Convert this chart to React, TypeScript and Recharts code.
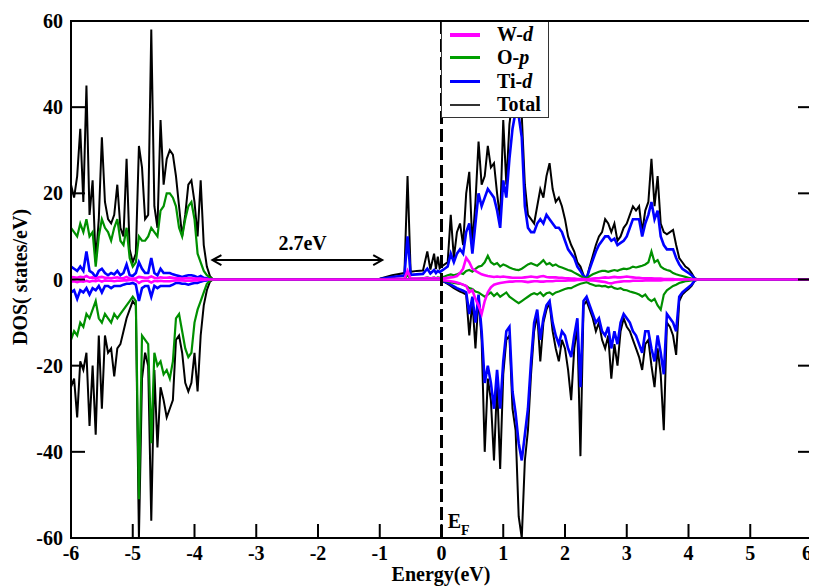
import React from "react";
import {
  LineChart,
  Line,
  XAxis,
  YAxis,
  ReferenceLine,
  ReferenceDot,
  Legend,
} from "recharts";

// Energy grid (eV): valence band, in-gap states, conduction band, tail
const energy = [
  -6.0, -5.95, -5.9, -5.85, -5.8, -5.75, -5.7, -5.65, -5.6, -5.55,
  -5.5, -5.45, -5.4, -5.35, -5.3, -5.25, -5.2, -5.15, -5.1, -5.05,
  -5.0, -4.95, -4.9, -4.85, -4.8, -4.75, -4.7, -4.65, -4.6, -4.55,
  -4.5, -4.45, -4.4, -4.35, -4.3, -4.25, -4.2, -4.15, -4.1, -4.05,
  -4.0, -3.95, -3.9, -3.85, -3.8, -3.75, -3.7,
  -3.5, -1.0, -0.8, -0.6, -0.55, -0.5, -0.4, -0.3, -0.23, -0.18, -0.12, -0.09, -0.06, -0.03,
  0.0, 0.05, 0.1, 0.15, 0.2, 0.25, 0.3, 0.35, 0.4, 0.45,
  0.5, 0.55, 0.6, 0.65, 0.7, 0.75, 0.8, 0.85, 0.9, 0.95,
  1.0, 1.05, 1.1, 1.15, 1.2, 1.25, 1.3, 1.35, 1.4, 1.45,
  1.5, 1.55, 1.6, 1.65, 1.7, 1.75, 1.8, 1.85, 1.9, 1.95,
  2.0, 2.05, 2.1, 2.15, 2.2, 2.25, 2.3, 2.35, 2.4, 2.45,
  2.5, 2.55, 2.6, 2.65, 2.7, 2.75, 2.8, 2.85, 2.9, 2.95,
  3.0, 3.05, 3.1, 3.15, 3.2, 3.25, 3.3, 3.35, 3.4, 3.45,
  3.5, 3.55, 3.6, 3.65, 3.7, 3.75, 3.8, 3.85, 3.9, 3.95,
  4.0, 4.05, 4.1, 4.15, 4.2,
  4.3, 6.0,
];

// spin up
const totalUp = [
  22, 19, 24, 35, 18, 45, 15, 23, 4, 14,
  33, 18, 14, 13, 15, 22, 12, 10, 28, 7,
  4, 6, 31, 26, 14, 15, 58, 17, 12, 37,
  22, 28, 30, 29, 24, 17, 10, 15, 22, 23,
  18, 10, 23, 8, 3, 0.8, 0,
  0, 0.2, 1.0, 1.5, 24, 1.8, 2, 2.1, 6.5, 2.3, 6, 2.4, 5.3, 2.6,
  3, 3.5, 4, 15, 5, 11, 13, 8, 20, 25,
  8, 18, 32, 22, 24, 31, 26, 27, 20, 14,
  37, 22, 36, 42, 45, 44, 38, 22, 15, 14,
  13, 17, 21, 19, 24, 27, 21, 18, 19, 17,
  14, 10, 8, 6.5, 4, 3, 1, 0.3, 3, 5.5,
  8, 10, 11, 14, 13, 11, 13, 9, 10, 12,
  13, 15, 17, 16, 17, 11, 16, 18, 28, 17,
  24, 13, 11, 10.5, 11, 11.5, 8, 5, 4, 3,
  2.5, 1.5, 0.3, 0, 0,
  0, 0,
];

const tiUp = [
  3, 2.5, 2, 3, 2, 6.5, 2, 1.5, 0.5, 2,
  2.5, 1.5, 1, 1.5, 1.2, 2, 1, 1.5, 3.5, 1,
  0.8, 1.5, 4, 2.5, 1.5, 1.5, 5, 1.5, 1, 2.5,
  1.5, 1.5, 1.5, 1.2, 1, 0.8, 0.6, 0.8, 1, 1,
  0.8, 0.5, 0.8, 0.4, 0.3, 0.1, 0,
  0, 0.1, 0.6, 0.9, 10, 1.1, 1.2, 1.3, 2.5, 1.4, 2.2, 1.5, 2, 1.7,
  2, 2.5, 3, 6, 4, 6, 7, 6, 11, 13,
  6, 13, 20, 17, 19, 21, 20, 19, 16, 12,
  23, 19, 28, 35, 39, 38, 33, 17, 12, 11,
  11, 13, 14, 13, 15, 14, 13, 12, 12, 11,
  9, 7, 6, 5, 3, 2, 0.8, 0.2, 2.5, 4.5,
  6.5, 8, 9, 10, 10, 9, 9.5, 8, 8.5, 9,
  10, 12, 14, 14, 14, 10, 13, 15, 18, 14,
  16, 10, 8, 7, 7, 7, 5, 3.5, 2.5, 2,
  1.5, 1, 0.2, 0, 0,
  0, 0,
];

const opUp = [
  12, 11, 10, 13, 11, 14, 10, 11, 3, 10,
  14, 12, 11, 9, 12, 14, 9, 8, 12, 5,
  3, 4, 10, 9, 9, 10, 12, 11, 10, 16,
  17, 20, 20, 19, 17, 12, 10, 14, 17, 18,
  14, 6, 4, 2, 1, 0.5, 0,
  0, 0.05, 0.1, 0.2, 1, 0.2, 0.2, 0.3, 0.5, 0.3, 0.5, 0.3, 0.5, 0.4,
  0.5, 0.7, 1, 1.2, 1, 1.2, 1.5, 1.3, 2, 2.2,
  1.8, 2.5, 3, 3.2, 4, 5.5, 4, 3.5, 3.8, 3,
  3.5, 3.2, 2.8, 2.5, 2.3, 2.2, 2.5, 3, 3.5, 3.8,
  3.5, 3.2, 3.8, 4.5, 3.5, 3.8, 3.2, 3.5, 3, 2.8,
  2.5, 2.2, 2, 1.6, 1.2, 0.8, 0.4, 0.2, 0.8, 1.2,
  1.5, 1.8, 2, 2, 1.8, 2, 2.2, 2, 2.3, 2.5,
  2.4, 2.6, 3, 2.8, 3, 3.2, 3.5, 4, 6.5, 4,
  4.5, 3, 2.5, 2.2, 2, 1.5, 1.2, 1, 0.8, 0.6,
  0.4, 0.2, 0, 0, 0,
  0, 0,
];

const wUp = [
  0.6, 0.5, 0.4, 0.6, 0.5, 0.8, 0.4, 0.5, 0.2, 0.5,
  0.6, 0.4, 0.4, 0.3, 0.4, 0.5, 0.3, 0.3, 0.6, 0.2,
  0.2, 0.3, 0.6, 0.5, 0.4, 0.4, 0.7, 0.4, 0.3, 0.5,
  0.4, 0.4, 0.5, 0.4, 0.3, 0.3, 0.2, 0.3, 0.3, 0.3,
  0.2, 0.2, 0.2, 0.1, 0.1, 0, 0,
  0, 0, 0.1, 0.2, 2, 0.2, 0.2, 0.2, 0.4, 0.2, 0.4, 0.2, 0.3, 0.2,
  0.2, 0.3, 0.4, 0.5, 0.6, 0.8, 1.5, 2.5, 5, 4,
  2.5, 2, 1.6, 1.2, 1, 0.8, 0.7, 0.6, 0.7, 0.6,
  0.7, 0.6, 0.5, 0.4, 0.4, 0.4, 0.4, 0.5, 0.6, 0.7,
  0.6, 0.5, 0.7, 0.8, 0.6, 0.5, 0.5, 0.5, 0.4, 0.4,
  0.3, 0.3, 0.2, 0.2, 0.1, 0.1, 0.1, 0, 0.1, 0.2,
  0.3, 0.3, 0.4, 0.5, 0.4, 0.5, 0.6, 0.5, 0.5, 0.6,
  0.7, 0.6, 0.5, 0.4, 0.4, 0.3, 0.3, 0.3, 0.3, 0.2,
  0.2, 0.2, 0.1, 0.1, 0.1, 0.1, 0, 0, 0, 0,
  0, 0, 0, 0, 0,
  0, 0,
];

// spin down
const totalDn = [
  -25, -23, -32, -19, -21, -17, -34, -20, -36, -13,
  -30, -13, -17, -16, -22.5, -16, -15, -12, -9, -7,
  -5, -6, -60, -23, -17, -20, -56, -21, -39, -25,
  -28, -32, -30, -28, -14, -13, -17, -24, -26, -24,
  -17, -26, -13, -6, -2.5, -0.5, 0,
  0, 0, 0, 0, 0, 0, 0, 0, 0, 0, 0, 0, 0, 0,
  -0.3, -0.6, -1, -1.5, -2, -2.4, -2.8, -3.1, -3.5, -13,
  -5, -16, -4, -14, -40, -23, -28, -42, -24, -44,
  -22, -14, -13, -30, -35, -55, -60, -42, -35, -22,
  -12, -8, -19, -10, -7, -5.5, -12, -16, -19, -14,
  -16, -21, -28, -16, -11, -41, -6, -5, -7, -9,
  -12, -10, -14, -16, -13, -23, -15, -20, -12, -9,
  -11, -12, -14, -16, -18, -21, -15, -14, -20, -25,
  -16, -22, -35, -10, -11, -13, -17.5, -5, -3.5, -2.8,
  -2.2, -1.5, -0.3, 0, 0,
  0, 0,
];

const tiDn = [
  -3, -2.5, -4.5, -2.5, -3, -2, -3.5, -2, -2.5, -1.5,
  -3, -1.5, -1.5, -2, -1.5, -1.5, -1.5, -1.2, -1, -1,
  -0.8, -1.2, -5, -2, -1.5, -1.5, -4, -1.5, -2, -1.5,
  -1.5, -1.5, -1.5, -1.2, -0.8, -0.8, -1, -1, -1.2, -1,
  -0.8, -0.8, -0.5, -0.3, -0.2, 0, 0,
  0, 0, 0, 0, 0, 0, 0, 0, 0, 0, 0, 0, 0, 0,
  -0.2, -0.5, -0.8, -1.2, -1.6, -2, -2.3, -2.6, -3, -8,
  -4, -10, -3.5, -12, -24, -20, -24, -30, -21, -30,
  -19, -12, -11, -26, -31, -38, -42, -36, -30, -19,
  -10, -7, -14, -9, -6, -5, -10, -13, -15, -12,
  -13, -16, -18, -13, -9, -25, -5, -4, -6, -8,
  -10, -9, -12, -13, -11, -16, -12, -15, -10, -8,
  -9, -10, -12, -13, -15, -17, -12, -12, -16, -19,
  -13, -17, -22, -8, -9, -10, -12, -4, -3, -2.4,
  -1.8, -1.2, -0.2, 0, 0,
  0, 0,
];

const opDn = [
  -14, -12, -13, -10, -11, -8, -9, -7, -5, -9,
  -10, -8, -9, -10, -8, -9, -8, -7, -6, -5,
  -4, -5, -51, -13, -14, -15, -38, -17, -20, -19,
  -22, -21, -23, -19, -9, -8, -12, -16, -18, -17,
  -10, -7, -5, -3, -1, -0.3, 0,
  0, 0, 0, 0, 0, 0, 0, 0, 0, 0, 0, 0, 0, 0,
  -0.2, -0.3, -0.5, -0.6, -0.8, -0.9, -1, -1.2, -1.5, -2,
  -2.2, -2.8, -3, -3.5, -4, -3.5, -3, -3.8, -3.2, -4,
  -3.5, -3, -4, -4.5, -5, -5.5, -5, -4.5, -4, -3.5,
  -3.2, -3.5, -3, -3.8, -3.2, -3, -3.5, -3, -2.8, -2.5,
  -2.2, -2, -2, -1.6, -1.3, -1, -0.8, -0.6, -1, -1.2,
  -1.5, -1.4, -1.6, -1.5, -1.8, -1.6, -2, -2.2, -2, -2.4,
  -2.5, -2.8, -3, -3.2, -3.5, -4, -3.5, -4.5, -5, -4.5,
  -6, -7, -3.5, -2.5, -2, -1.5, -1.2, -0.8, -0.6, -0.4,
  -0.3, -0.2, 0, 0, 0,
  0, 0,
];

const wDn = [
  -0.5, -0.4, -0.6, -0.4, -0.5, -0.3, -0.5, -0.3, -0.4, -0.2,
  -0.5, -0.2, -0.3, -0.3, -0.4, -0.3, -0.3, -0.2, -0.2, -0.1,
  -0.1, -0.2, -0.8, -0.4, -0.3, -0.3, -0.7, -0.3, -0.4, -0.3,
  -0.4, -0.4, -0.4, -0.3, -0.2, -0.2, -0.2, -0.3, -0.3, -0.3,
  -0.2, -0.2, -0.1, -0.1, 0, 0, 0,
  0, 0, 0, 0, 0, 0, 0, 0, 0, 0, 0, 0, 0, 0,
  -0.1, -0.2, -0.3, -0.4, -0.5, -0.7, -0.9, -1.2, -1.5, -3,
  -2.5, -4.5, -6, -8, -5, -3, -1.8, -1.2, -1, -0.8,
  -0.7, -0.6, -0.5, -0.5, -0.4, -0.4, -0.4, -0.5, -0.6, -0.5,
  -0.4, -0.4, -0.5, -0.5, -0.4, -0.4, -0.4, -0.3, -0.3, -0.3,
  -0.3, -0.2, -0.2, -0.2, -0.1, -0.1, -0.1, -0.1, -0.2, -0.2,
  -0.3, -0.4, -0.5, -0.6, -0.8, -0.9, -0.7, -0.6, -0.5, -0.4,
  -0.4, -0.4, -0.3, -0.3, -0.3, -0.3, -0.2, -0.2, -0.2, -0.2,
  -0.2, -0.2, -0.1, -0.1, -0.1, -0.1, 0, 0, 0, 0,
  0, 0, 0, 0, 0,
  0, 0,
];

const xTicks = [-6, -5, -4, -3, -2, -1, 0, 1, 2, 3, 4, 5, 6];
const yTicks = [-60, -40, -20, 0, 20, 40, 60];

const rows = energy.map((e, i) => ({
  e,
  totalUp: totalUp[i],
  totalDn: totalDn[i],
  tiUp: tiUp[i],
  tiDn: tiDn[i],
  opUp: opUp[i],
  opDn: opDn[i],
  wUp: wUp[i],
  wDn: wDn[i],
}));

// drawing order: Total, Ti-d, O-p, W-d
const series = [
  { up: "totalUp", dn: "totalDn", color: "#000000", width: 2 },
  { up: "tiUp", dn: "tiDn", color: "#0000ff", width: 2.6 },
  { up: "opUp", dn: "opDn", color: "#009000", width: 2.2 },
  { up: "wUp", dn: "wDn", color: "#ff00ff", width: 2.6 },
];

const legendItems = [
  { name: "W-", italic: "d", color: "#ff00ff", thick: 4 },
  { name: "O-", italic: "p", color: "#00a000", thick: 3 },
  { name: "Ti-", italic: "d", color: "#0000ff", thick: 3 },
  { name: "Total", italic: "", color: "#333333", thick: 2 },
];

const W = 809;
const H = 579;
const MARGIN = { top: 13, right: 5, bottom: 0, left: 0 };
const PLOT_L = 63;
const PLOT_T = MARGIN.top;
const PLOT_R = W - MARGIN.right;
const PLOT_B = 530;
const TICK = 14;
const FONT = "'Liberation Serif', 'Times New Roman', serif";

function XTick({ x, payload }: any) {
  const shift = payload.value === 6 ? -5 : 0;
  return (
    <g>
      <rect x={x - 1} y={PLOT_B - TICK} width={2} height={TICK} fill="#000" />
      <text
        x={x + shift}
        y={PLOT_B + 22}
        textAnchor="middle"
        fontFamily={FONT}
        fontWeight="bold"
        fontSize={20}
        fill="#000"
      >
        {payload.value}
      </text>
    </g>
  );
}

function YTick({ y, payload }: any) {
  return (
    <g>
      <rect x={PLOT_L} y={y - 1} width={TICK} height={2} fill="#000" />
      <rect x={PLOT_R - TICK} y={y - 1} width={TICK} height={2} fill="#000" />
      <text
        x={PLOT_L - 8}
        y={y + 7}
        textAnchor="end"
        fontFamily={FONT}
        fontWeight="bold"
        fontSize={20}
        fill="#000"
      >
        {payload.value}
      </text>
    </g>
  );
}

function XTitle() {
  return (
    <text x={433} y={573} textAnchor="middle" fontFamily={FONT} fontWeight="bold" fontSize={20} fill="#000">
      Energy(eV)
    </text>
  );
}

function YTitle() {
  return (
    <text
      x={19}
      y={269}
      transform="rotate(-90 19 269)"
      textAnchor="middle"
      fontFamily={FONT}
      fontWeight="bold"
      fontSize={20}
      fill="#000"
    >
      DOS( states/eV)
    </text>
  );
}

function LegendBox() {
  return (
    <div
      style={{
        width: 108,
        height: 98,
        boxSizing: "border-box",
        border: "1.5px solid #333",
        background: "#fff",
        position: "relative",
        fontFamily: FONT,
        fontWeight: "bold",
        fontSize: 20,
        color: "#000",
      }}
    >
      {legendItems.map((it, i) => (
        <div
          key={it.name}
          style={{
            position: "absolute",
            left: 0,
            top: 2 + i * 23.4,
            height: 23,
            display: "flex",
            alignItems: "center",
            whiteSpace: "nowrap",
          }}
        >
          <span
            style={{
              display: "inline-block",
              marginLeft: 8,
              width: 30,
              height: it.thick,
              background: it.color,
            }}
          />
          <span style={{ marginLeft: 17, lineHeight: "23px" }}>
            {it.name}
            {it.italic && <i>{it.italic}</i>}
          </span>
        </div>
      ))}
    </div>
  );
}

const arrowLeft = (p: any) => (
  <path
    d={`M ${p.cx + 9} ${p.cy - 5} L ${p.cx} ${p.cy} L ${p.cx + 9} ${p.cy + 5}`}
    fill="none"
    stroke="#000"
    strokeWidth={2}
  />
);

const arrowRight = (p: any) => (
  <path
    d={`M ${p.cx - 9} ${p.cy - 5} L ${p.cx} ${p.cy} L ${p.cx - 9} ${p.cy + 5}`}
    fill="none"
    stroke="#000"
    strokeWidth={2}
  />
);

const gapLabel = (p: any) => (
  <text x={p.cx} y={p.cy} textAnchor="middle" fontFamily={FONT} fontWeight="bold" fontSize={20} fill="#000">
    2.7eV
  </text>
);

const fermiLabel = (p: any) => (
  <text x={p.cx} y={p.cy} fontFamily={FONT} fontWeight="bold" fontSize={20} fill="#000">
    E
    <tspan dy={7} fontSize={14}>
      F
    </tspan>
  </text>
);

export default function App() {
  return (
    <div style={{ width: W, height: H, position: "relative", background: "#fff" }}>
      <LineChart width={W} height={H} data={rows} margin={MARGIN}>
        <XAxis
          type="number"
          dataKey="e"
          domain={[-6, 6]}
          ticks={xTicks}
          interval={0}
          height={49}
          axisLine={false}
          tickLine={false}
          tickSize={0}
          tickMargin={0}
          tick={<XTick />}
          label={<XTitle />}
        />
        <YAxis
          type="number"
          domain={[-60, 60]}
          ticks={yTicks}
          interval={0}
          width={63}
          allowDataOverflow
          axisLine={false}
          tickLine={false}
          tickSize={0}
          tickMargin={0}
          tick={<YTick />}
          label={<YTitle />}
        />
        {series.map((s) => (
          <Line
            key={s.up}
            type="linear"
            dataKey={s.up}
            stroke={s.color}
            strokeWidth={s.width}
            dot={false}
            activeDot={false}
            isAnimationActive={false}
            legendType="none"
          />
        ))}
        {series.map((s) => (
          <Line
            key={s.dn}
            type="linear"
            dataKey={s.dn}
            stroke={s.color}
            strokeWidth={s.width}
            dot={false}
            activeDot={false}
            isAnimationActive={false}
            legendType="none"
          />
        ))}
        <ReferenceLine x={0} stroke="#000" strokeWidth={3} strokeDasharray="13 5" />
        <ReferenceLine
          segment={[
            { x: -3.71, y: 4.5 },
            { x: -0.96, y: 4.5 },
          ]}
          stroke="#000"
          strokeWidth={2}
        />
        <ReferenceDot x={-3.71} y={4.5} shape={arrowLeft} />
        <ReferenceDot x={-0.96} y={4.5} shape={arrowRight} />
        <ReferenceDot x={-2.25} y={6.8} shape={gapLabel} />
        <ReferenceDot x={0.1} y={-57.7} shape={fermiLabel} />
        <Legend
          layout="vertical"
          align="center"
          verticalAlign="middle"
          content={() => <LegendBox />}
          wrapperStyle={{ left: 433, top: 12, width: 108, height: 98 }}
        />
      </LineChart>
      {/* plot frame */}
      <div
        style={{
          position: "absolute",
          left: PLOT_L - 1,
          top: PLOT_T - 1,
          width: PLOT_R - PLOT_L + 2,
          height: PLOT_B - PLOT_T + 2,
          boxSizing: "border-box",
          border: "2px solid #000",
          pointerEvents: "none",
        }}
      />
    </div>
  );
}
